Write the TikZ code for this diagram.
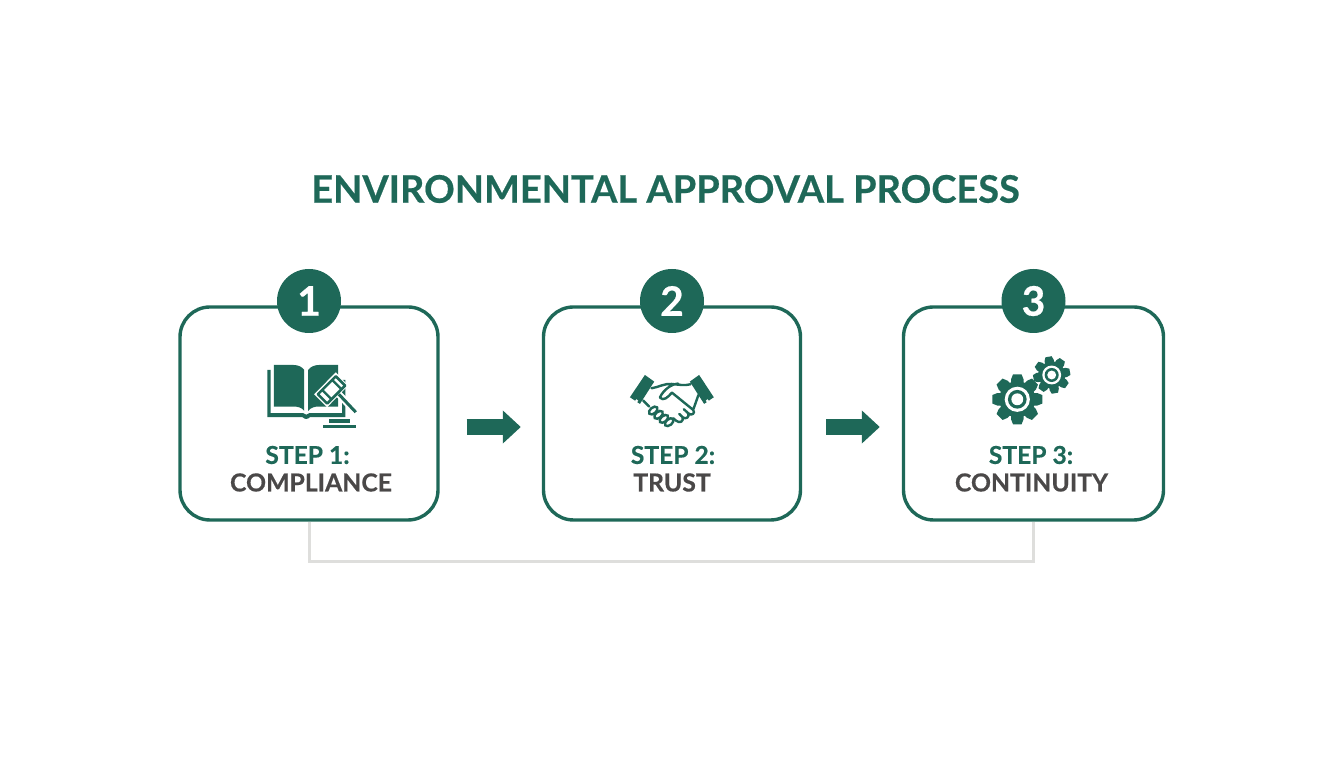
\documentclass[tikz,border=0pt]{standalone}
\usepackage{xcolor}
\usepackage{fontspec}
\setmainfont{Lato}[BoldFeatures={FakeBold=0.5}]
\usepackage{tikz}
\usetikzlibrary{arrows.meta, positioning, calc}
\definecolor{stepcolor}{RGB}{30,104,88}
\definecolor{namecolor}{RGB}{74,72,72}
\definecolor{linkcolor}{RGB}{222,222,220}
\newcommand{\gearicon}[5]{% x, y, outer radius, root radius, turn
  \foreach \a in {0,45,...,315} {
    \fill[stepcolor, rotate around={\a+#5:(#1,#2)}] ($(#1,#2)+(-0.25*#3,0)$) -- ($(#1,#2)+(-0.25*#3,0.8*#3)$) -- ($(#1,#2)+(-0.17*#3,#3)$) -- ($(#1,#2)+(0.17*#3,#3)$) -- ($(#1,#2)+(0.25*#3,0.8*#3)$) -- ($(#1,#2)+(0.25*#3,0)$) -- cycle;
  }
  \fill[stepcolor] (#1,#2) circle (#4);
  \fill[white] (#1,#2) circle (0.70*#4);
  \fill[stepcolor] (#1,#2) circle (0.52*#4);
  \fill[white] (#1,#2) circle (0.33*#4);
}
\begin{document}
\begin{tikzpicture}[
    card/.style={draw=stepcolor, line width=0.034cm, fill=white, minimum width=2.58cm, minimum height=2.13cm, rounded corners=0.3cm},
    badge/.style={circle, fill=stepcolor, minimum size=0.64cm, inner sep=0pt, text=white, font=\fontsize{11.6}{13}\selectfont\bfseries},
    steptext/.style={text=stepcolor, font=\fontsize{7}{9}\selectfont\bfseries, inner sep=0pt},
    nametext/.style={text=namecolor, font=\fontsize{7.05}{9}\selectfont\bfseries, inner sep=0pt},
    arrow/.style={-{Triangle[length=0.18cm, width=0.32cm]}, line width=0.16cm, draw=stepcolor},
    link/.style={draw=linkcolor, line width=0.03cm}
]
    \useasboundingbox (0,0) rectangle (13.44,7.68);
    % Title
    \node[text=stepcolor, font=\fontsize{10.8}{14}\selectfont\bfseries, inner sep=0pt] (title) at (6.655,5.79) {ENVIRONMENTAL APPROVAL PROCESS};

    % Cards
    \node[card] (card1) at (3.09,3.545) {};
    \node[card, minimum width=2.57cm] (card2) at (6.72,3.545) {};
    \node[card, minimum width=2.6cm] (card3) at (10.335,3.545) {};

    % Badges
    \node[badge] (badge1) at (3.09,4.67) {1};
    \node[badge] (badge2) at (6.72,4.67) {2};
    \node[badge] (badge3) at (10.335,4.67) {3};

    % Labels
    \node[steptext] (step1) at (3.075,3.13) {STEP 1:};
    \node[nametext] (name1) at (3.11,2.855) {COMPLIANCE};
    \node[steptext] (step2) at (6.73,3.13) {STEP 2:};
    \node[nametext] (name2) at (6.72,2.855) {TRUST};
    \node[steptext] (step3) at (10.31,3.13) {STEP 3:};
    \node[nametext] (name3) at (10.315,2.855) {CONTINUITY};

    % Connections
    \draw[arrow] ([xshift=0.27cm,yshift=-0.135cm]card1.east) -- ([xshift=-0.21cm,yshift=-0.135cm]card2.west);
    \draw[arrow] ([xshift=0.24cm,yshift=-0.135cm]card2.east) -- ([xshift=-0.22cm,yshift=-0.135cm]card3.west);
    \draw[link] (card1.south) -- ++(0,-0.4) -| (card3.south);

    % Book and gavel
    \begin{scope}[shift={(2.55,4.13)}, x=0.00333cm, y=-0.00333cm]
        \fill[stepcolor] (57,30) -- (115,30) .. controls (130,30) and (142,36) .. (148,45) -- (148,168) .. controls (140,158) and (130,155) .. (115,155) -- (57,155) -- cycle;
        \fill[stepcolor] (160,45) .. controls (166,36) and (178,30) .. (193,30) -- (250,30) -- (250,155) -- (193,155) .. controls (178,155) and (168,158) .. (160,168) -- cycle;
        \fill[stepcolor] (37,45) -- (47,45) -- (47,175) -- (145,175) .. controls (150,181) and (158,181) .. (163,175) -- (262,175) -- (262,75) -- (272,75) -- (272,187) -- (165,187) .. controls (158,194) and (150,194) .. (143,187) -- (37,187) -- cycle;
        % gavel
        \fill[white] (280,92) -- (243,52) -- (178,118) -- (217,157) -- cycle;
        \draw[white, line width=0.07cm] (252,118) -- (303,172);
        \draw[stepcolor, line width=0.03cm] (252,118) -- (303,172);
        \draw[stepcolor, line width=0.026cm, fill=white, line join=round] (271,92) -- (243,64) -- (189,118) -- (217,146) -- cycle;
        \draw[stepcolor, line width=0.024cm] (260,103) -- (232,75);
        \draw[stepcolor, line width=0.024cm] (230,133) -- (202,105);
        \fill[stepcolor] (222,193) rectangle (285,203);
        \fill[stepcolor] (205,209) rectangle (305,219);
    \end{scope}

    % Handshake
    \begin{scope}[shift={(6.10,4.08)}, x=0.00333cm, y=-0.00333cm]
        \fill[stepcolor] (105,45) -- (133,65) -- (90,132) -- (60,112) -- cycle;
        \fill[stepcolor] (240,65) -- (268,45) -- (312,112) -- (283,132) -- cycle;
        \fill[white] (80,123) circle (5);
        \fill[white] (293,123) circle (5);
        \draw[stepcolor, line width=0.024cm, line join=round, line cap=round]
            (125,85) .. controls (145,82) and (165,70) .. (185,72) .. controls (205,74) and (225,78) .. (242,73)
            (205,71) .. controls (185,72) and (160,90) .. (150,113) .. controls (160,125) and (175,112) .. (186,98) -- (250,150) .. controls (258,160) and (245,170) .. (235,160) -- (222,148)
            (235,160) .. controls (240,172) and (228,180) .. (218,172) -- (208,162)
            (218,172) .. controls (222,185) and (210,192) .. (198,182) -- (190,175)
            (100,122) -- (118,140)
            (266,105) -- (250,150);
        \foreach \fx/\fy in {130/152,146/165,162/177,178/187} {
            \draw[stepcolor, line width=0.024cm, fill=white, rotate around={40:(\fx,\fy)}] (\fx,\fy) ellipse (15 and 9);
        }
    \end{scope}

    % Gears
    \gearicon{10.173}{3.687}{0.25}{0.18}{0}
    \gearicon{10.517}{3.93}{0.185}{0.135}{10}
\end{tikzpicture}
\end{document}
